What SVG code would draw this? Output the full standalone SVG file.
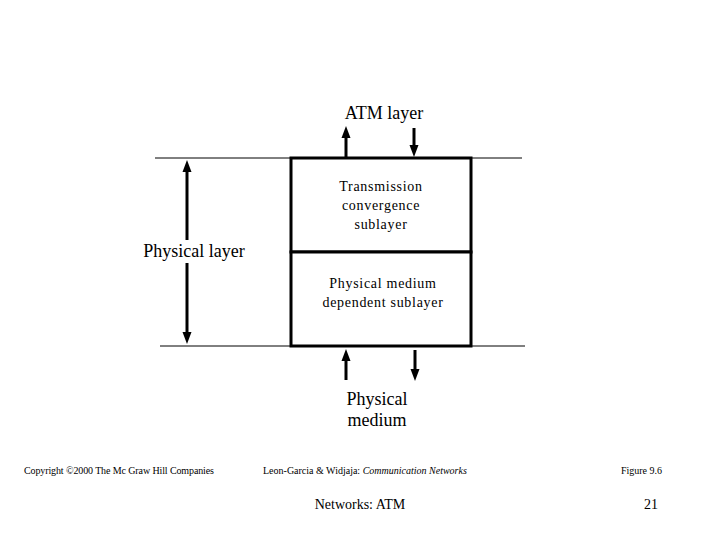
<svg xmlns="http://www.w3.org/2000/svg" width="720" height="540" viewBox="0 0 720 540">
<style>
text{font-family:"Liberation Serif","Times New Roman",serif;fill:#000}
.big{font-size:18px}
.mid{font-size:14px}
.box-t{font-size:14px;letter-spacing:0.7px}
.ft{font-size:10px}
.thin{stroke:#000;stroke-width:1;fill:none}
.arr{stroke:#000;stroke-width:3;fill:none}
.box{stroke:#000;stroke-width:3;fill:#fff}
</style>
<defs>
<marker id="ah" markerWidth="4" markerHeight="4" refX="2" refY="2" orient="auto" markerUnits="strokeWidth">
<path d="M0,0.5 L4,2 L0,3.5 z" fill="#000"/>
</marker>
</defs>
<rect width="720" height="540" fill="#fff"/>
<g id="connectors">
<line class="thin" x1="155" y1="158" x2="522" y2="158"/>
<line class="thin" x1="160" y1="346" x2="525" y2="346"/>
<line class="arr" x1="187" y1="240" x2="187" y2="166" marker-end="url(#ah)"/>
<line class="arr" x1="187" y1="263" x2="187" y2="338" marker-end="url(#ah)"/>
<line class="arr" x1="346" y1="157" x2="346" y2="132" marker-end="url(#ah)"/>
<line class="arr" x1="414" y1="128" x2="414" y2="151" marker-end="url(#ah)"/>
<line class="arr" x1="346" y1="380" x2="346" y2="355" marker-end="url(#ah)"/>
<line class="arr" x1="415" y1="350" x2="415" y2="375" marker-end="url(#ah)"/>
</g>
<g id="tc">
<rect class="box" x="291" y="158" width="180" height="94"/>
<text class="box-t" x="381" y="191" text-anchor="middle">Transmission</text>
<text class="box-t" x="381" y="210" text-anchor="middle">convergence</text>
<text class="box-t" x="381" y="229" text-anchor="middle">sublayer</text>
</g>
<g id="pmd">
<rect class="box" x="291" y="252" width="180" height="94"/>
<text class="box-t" x="383" y="288" text-anchor="middle">Physical medium</text>
<text class="box-t" x="383" y="307" text-anchor="middle">dependent sublayer</text>
</g>
<g id="atm">
<text class="big" x="384" y="119" text-anchor="middle">ATM layer</text>
</g>
<g id="phys">
<text class="big" x="194" y="257" text-anchor="middle">Physical layer</text>
</g>
<g id="medium">
<text class="big" x="377" y="405" text-anchor="middle">Physical</text>
<text class="big" x="377" y="426" text-anchor="middle">medium</text>
</g>
<g id="footer">
<text class="ft" x="24" y="474" textLength="190">Copyright ©2000 The Mc Graw Hill Companies</text>
<text class="ft" x="263" y="474">Leon-Garcia &amp; Widjaja:  <tspan font-style="italic">Communication Networks</tspan></text>
<text class="ft" x="662" y="474" text-anchor="end">Figure 9.6</text>
<text class="mid" x="360" y="509" text-anchor="middle">Networks: ATM</text>
<text class="mid" x="658" y="509" text-anchor="end">21</text>
</g>
</svg>
